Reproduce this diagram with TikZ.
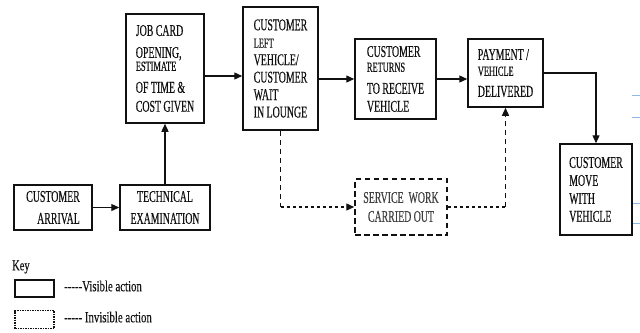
\documentclass[tikz,border=0pt]{standalone}
\usepackage{fontspec}
\setmainfont{Liberation Serif}[FakeStretch=0.6,FakeBold=0.3]
\newfontfamily\keyfont{Liberation Serif}[FakeStretch=0.7,FakeBold=0.2]
\usetikzlibrary{arrows.meta,calc}
\definecolor{ink}{HTML}{111111}
\definecolor{faint}{HTML}{8DB9E6}
\tikzset{
  box/.style={draw=ink, line width=1.5bp, inner sep=0pt, text=ink, align=left,
    font=\fontsize{16.5}{15}\selectfont},
  dbox/.style={box, dash pattern=on 5.5bp off 3.5bp, line width=1.5bp, text=black!75},
  conn/.style={draw=ink, line width=1.3bp, -{Triangle[length=8bp,width=7bp]}},
  plain/.style={draw=ink, line width=1.3bp},
  dconn/.style={plain, dash pattern=on 5bp off 4bp},
  fconn/.style={plain, dash pattern=on 3.5bp off 2.5bp},
  keytext/.style={anchor=west, inner sep=0pt, text=ink, font=\keyfont\fontsize{15.5}{17}\selectfont},
}
\newcommand{\sm}[1]{{\fontsize{14}{13}\selectfont #1}}
\newcommand{\hy}{\mbox{-}}
\begin{document}
\begin{tikzpicture}[x=1bp,y=-1bp]
\useasboundingbox (0,0) rectangle (640,332);
\fill[white] (0,0) rectangle (640,332);

% faint artefact lines at right edge
\foreach \yy in {95,117,203,223} \draw[faint, line width=0.8bp] (632,\yy) -- (640,\yy);

\node[box, minimum width=78bp, minimum height=45bp, align=right] (arr) at (53,207.5)
  {CUSTOMER\\[7bp]ARRIVAL};
\node[box, minimum width=90bp, minimum height=45bp, align=center] (tech) at (165,207.5)
  {TECHNICAL\\[7bp]EXAMINATION};
\node[box, minimum width=78bp, minimum height=109bp] (job) at (165,68.5)
  {JOB CARD\\[7bp]OPENING,\\[-2bp]\sm{ESTIMATE}\\[7bp]OF TIME \&\\[4bp]COST GIVEN};
\node[box, minimum width=75bp, minimum height=123bp] (left) at (280.5,68.5)
  {CUSTOMER\\[2.5bp]\sm{LEFT}\\[2.5bp]VEHICLE/\\[2.5bp]CUSTOMER\\[2.5bp]WAIT\\[2.5bp]IN LOUNGE};
\node[box, minimum width=81bp, minimum height=80bp] (ret) at (395.5,79)
  {CUSTOMER\\[0bp]\sm{RETURNS}\\[7bp]TO RECEIVE\\[3bp]VEHICLE};
\node[box, minimum width=75bp, minimum height=68bp] (pay) at (505.5,73)
  {PAYMENT /\\[1bp]\sm{VEHICLE}\\[6bp]DELIVERED};
\node[box, minimum width=72bp, minimum height=91bp] (move) at (596,189.5)
  {CUSTOMER\\[3bp]MOVE\\[3bp]WITH\\[3bp]VEHICLE};
\node[dbox, minimum width=92bp, minimum height=56bp, align=center] (serv) at (401,207)
  {SERVICE~~WORK\\[4bp]CARRIED~OUT};

% solid connectors
\draw[conn] (arr) -- (tech);
\draw[conn] (tech) -- (job);
\coordinate (j1) at ($(job.east)+(0,7.5)$);
\draw[conn] (j1) -- (left.west |- j1);
\draw[conn] (left.east |- ret.west) -- (ret.west);
\draw[conn] (ret.east) -- (pay.west |- ret.east);
\draw[conn] (pay.east) -| (move.north);

% invisible-action connectors
\coordinate (c1) at (left.south |- serv.west);
\draw[dconn] (left.south) -- (c1);
\draw[fconn, -{Triangle[length=8bp,width=7bp]}] (c1) -- (serv.west);
\coordinate (c2) at (pay.south |- serv.east);
\draw[fconn] (serv.east) -- (c2);
\draw[dconn, -{Triangle[length=8bp,width=7bp]}] (c2) -- (pay.south);

% key
\node[anchor=west, inner sep=0pt, text=ink, font=\keyfont\fontsize{15}{15}\selectfont] (key) at (12,267) {Key};
\node[draw=ink, line width=1.3bp, minimum width=39bp, minimum height=17bp, inner sep=0pt] (kvis) at (34.5,288.5) {};
\node[keytext] (tvis) at (64,286) {\hy\hy\hy\hy\hy Visible action};
\node[draw=ink, line width=1.2bp, dash pattern=on 1.5bp off 1bp, minimum width=39bp, minimum height=18bp, inner sep=0pt] (kinv) at (34.5,319.5) {};
\node[keytext] (tinv) at (64,317) {\hy\hy\hy\hy\hy\ Invisible action};
\end{tikzpicture}
\end{document}
